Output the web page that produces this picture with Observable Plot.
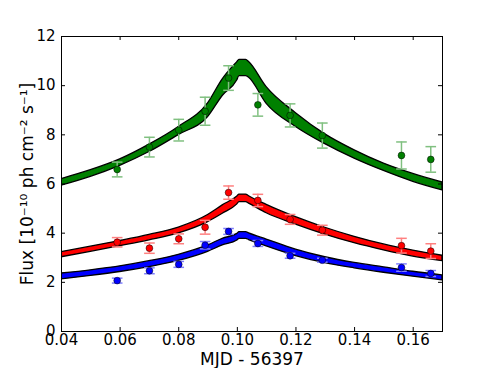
<!DOCTYPE html>
<html><head><meta charset="utf-8">
<script src="https://cdn.jsdelivr.net/npm/d3@7"></script>
<script src="https://cdn.jsdelivr.net/npm/@observablehq/plot@0.6"></script>
<style>
body{margin:0;background:#fff}
#chart svg{font-family:"DejaVu Sans",sans-serif;background:#fff}
</style>
</head><body><div id="chart"></div>
<script>
// Observations (MJD - 56397)
const obsTime   = [0.059, 0.070, 0.080, 0.089, 0.097, 0.107, 0.118, 0.129, 0.156, 0.166];
const greenFlux = [6.59, 7.50, 8.19, 8.96, 10.31, 9.22, 8.79, 7.97, 7.16, 7.00];
const greenErr  = [0.30, 0.40, 0.44, 0.57, 0.50, 0.46, 0.47, 0.51, 0.55, 0.52];
const redFlux   = [3.63, 3.39, 3.77, 4.24, 5.65, 5.33, 4.56, 4.12, 3.49, 3.27];
const redErr    = [0.19, 0.21, 0.20, 0.28, 0.27, 0.25, 0.20, 0.20, 0.30, 0.30];
const blueFlux  = [2.07, 2.47, 2.73, 3.51, 4.07, 3.58, 3.08, 2.90, 2.60, 2.36];
const blueErr   = [0.10, 0.12, 0.12, 0.15, 0.12, 0.12, 0.10, 0.08, 0.15, 0.12];

// Model bands (lower / upper edge)
const modelTime = [0.04, 0.05, 0.06, 0.07, 0.08, 0.09, 0.095, 0.10, 0.1007, 0.103, 0.104, 0.11, 0.12, 0.13, 0.14, 0.15, 0.16, 0.17];
const greenLo = [5.93, 6.29, 6.74, 7.30, 7.99, 8.72, 9.58, 10.22, 10.39, 10.39, 10.32, 9.26, 8.32, 7.62, 7.03, 6.53, 6.09, 5.74];
const greenHi = [6.20, 6.56, 7.00, 7.60, 8.32, 9.28, 10.26, 10.96, 11.05, 11.05, 10.96, 9.94, 8.88, 8.02, 7.37, 6.83, 6.41, 6.06];
const redLo   = [3.02, 3.24, 3.47, 3.71, 3.99, 4.45, 4.79, 5.17, 5.26, 5.26, 5.20, 4.81, 4.35, 3.94, 3.59, 3.30, 3.05, 2.86];
const redHi   = [3.23, 3.45, 3.68, 3.93, 4.23, 4.74, 5.13, 5.49, 5.57, 5.57, 5.50, 5.15, 4.65, 4.22, 3.85, 3.54, 3.29, 3.08];
const blueLo  = [2.12, 2.26, 2.42, 2.62, 2.87, 3.24, 3.50, 3.70, 3.77, 3.77, 3.72, 3.46, 3.07, 2.78, 2.57, 2.39, 2.23, 2.08];
const blueHi  = [2.36, 2.49, 2.65, 2.86, 3.12, 3.50, 3.77, 3.97, 4.04, 4.04, 3.99, 3.74, 3.33, 3.02, 2.79, 2.61, 2.43, 2.28];

const xTicks = [0.04, 0.06, 0.08, 0.10, 0.12, 0.14, 0.16];
const yTicks = [0, 2, 4, 6, 8, 10, 12];
const xLabel = "MJD - 56397";
const yLabel = "Flux [10⁻¹⁰ ph cm⁻² s⁻¹]";

const series = [
  {name: "green", flux: greenFlux, err: greenErr, lo: greenLo, hi: greenHi, color: "#008000", errColor: "#80c080"},
  {name: "red",   flux: redFlux,   err: redErr,   lo: redLo,   hi: redHi,   color: "#ff0000", errColor: "#ff8080"},
  {name: "blue",  flux: blueFlux,  err: blueErr,  lo: blueLo,  hi: blueHi,  color: "#0000ff", errColor: "#8080ff"}
];

const W = 491, H = 368, mL = 61, mR = 49, mT = 36, mB = 37;
const innerW = W - mL - mR, innerH = H - mT - mB;
const tickLen = 4;

const capSymbol = {
  draw(context, size) {
    const w = Math.sqrt(size);
    context.moveTo(-w, 0);
    context.lineTo(w, 0);
  }
};

const marks = [];
for (const s of series) {
  const band = modelTime.map((t, i) => ({t, lo: s.lo[i], hi: s.hi[i]}));
  marks.push(Plot.areaY(band, {x: "t", y1: "lo", y2: "hi", fill: s.color, stroke: "black", strokeWidth: 1.3, curve: "monotone-x", clip: true}));
}
for (const s of series) {
  const obs = obsTime.map((t, i) => ({t, f: s.flux[i], e: s.err[i]}));
  marks.push(Plot.ruleX(obs, {x: "t", y1: d => d.f - d.e, y2: d => d.f + d.e, stroke: s.errColor, strokeWidth: 1.5}));
  marks.push(Plot.dot(obs, {x: "t", y: d => d.f + d.e, symbol: capSymbol, r: 3, stroke: s.errColor, strokeWidth: 1.5}));
  marks.push(Plot.dot(obs, {x: "t", y: d => d.f - d.e, symbol: capSymbol, r: 3, stroke: s.errColor, strokeWidth: 1.5}));
  marks.push(Plot.dot(obs, {x: "t", y: "f", r: 3.4, fill: s.color, stroke: "#000", strokeWidth: 0.5}));
}

const chart = Plot.plot({
  width: W, height: H,
  marginLeft: mL, marginRight: mR, marginTop: mT, marginBottom: mB,
  x: {domain: [0.04, 0.17]},
  y: {domain: [0, 12]},
  style: {fontFamily: "DejaVu Sans", color: "black", background: "white"},
  marks: [
    ...marks,
    // inward ticks on all four sides
    Plot.tickX(xTicks, {x: d => d, insetTop: innerH - tickLen, stroke: "black"}),
    Plot.tickX(xTicks, {x: d => d, insetBottom: innerH - tickLen, stroke: "black"}),
    Plot.tickY(yTicks, {y: d => d, insetRight: innerW - tickLen, stroke: "black"}),
    Plot.tickY(yTicks, {y: d => d, insetLeft: innerW - tickLen, stroke: "black"}),
    Plot.axisX({ticks: xTicks, tickFormat: d => d.toFixed(2), tickSize: 0, tickPadding: 3, fontSize: 15, label: null}),
    Plot.axisY({ticks: yTicks, tickFormat: d => String(d), tickSize: 0, tickPadding: 6, fontSize: 15, label: null}),
    Plot.frame({stroke: "black", strokeWidth: 1}),
    Plot.text([xLabel], {text: d => d, frameAnchor: "bottom", dy: 28, fontSize: 17, lineAnchor: "middle", textAnchor: "middle", fill: "black"}),
    Plot.text([yLabel], {text: d => d, frameAnchor: "left", dx: -34, rotate: -90, fontSize: 17, lineAnchor: "middle", textAnchor: "middle", fill: "black"})
  ]
});
document.getElementById("chart").appendChild(chart);
</script>
</body></html>
